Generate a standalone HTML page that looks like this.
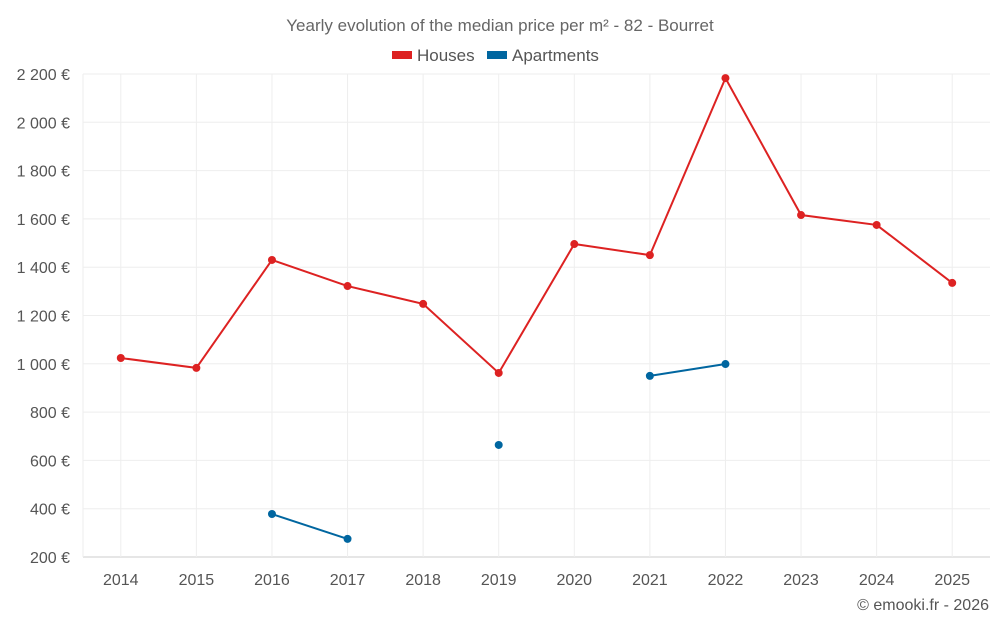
<!DOCTYPE html>
<html><head><meta charset="utf-8"><style>
body{margin:0;background:#fff;font-family:"Liberation Sans",sans-serif}
svg text{font-family:"Liberation Sans",sans-serif}
</style></head><body>
<svg id="chart" width="1000" height="625" xmlns="http://www.w3.org/2000/svg">
<text x="500" y="31" text-anchor="middle" font-size="17" fill="#666">Yearly evolution of the median price per m² - 82 - Bourret</text>
<g>
<g><rect x="392" y="51" width="20" height="8" fill="#dd2222"/><text x="417" y="61" font-size="17" fill="#555">Houses</text></g>
<g><rect x="487" y="51" width="20" height="8" fill="#0066a0"/><text x="512" y="61" font-size="17" fill="#555">Apartments</text></g>
</g>
<g id="grid"></g>
<g id="yaxis"></g>
<g id="xaxis"></g>
<g id="series"></g>
<text x="989" y="610" text-anchor="end" font-size="16" fill="#555">© emooki.fr - 2026</text>
</svg>
<script>
const years=["2014","2015","2016","2017","2018","2019","2020","2021","2022","2023","2024","2025"];
const houses=[1024,983,1430,1322,1248,962,1496,1450,2183,1616,1575,1335];
const apartments=[null,null,378,275,null,664,null,950,999,null,null,null];
const yTicks=[200,400,600,800,1000,1200,1400,1600,1800,2000,2200];
const yTickLabels=["200 €","400 €","600 €","800 €","1 000 €","1 200 €","1 400 €","1 600 €","1 800 €","2 000 €","2 200 €"];
const NS="http://www.w3.org/2000/svg";
const L=83,R=990,T=74,B=557;
const step=(R-L)/years.length;
const x=i=>L+step*(i+0.5);
const y=v=>B-(v-200)/2000*(B-T);
function mk(tag,attrs,parent){const e=document.createElementNS(NS,tag);for(const k in attrs)e.setAttribute(k,attrs[k]);parent.appendChild(e);return e;}
const grid=document.getElementById('grid'),ya=document.getElementById('yaxis'),xa=document.getElementById('xaxis'),se=document.getElementById('series');
yTicks.forEach((v,i)=>{
 const l=mk('line',{x1:L,x2:R,y1:y(v),y2:y(v),stroke:i==0?'#ccc':'#eeeeee'},grid);
 
 
 const t=mk('text',{x:70,y:y(v)+6,'text-anchor':'end','font-size':16,fill:'#555'},ya);
 t.textContent=yTickLabels[i];
 
 
});
const lb=mk('line',{x1:L,x2:L,y1:T,y2:B,stroke:'#eeeeee'},grid);


years.forEach((yr,i)=>{
 const l=mk('line',{x1:x(i),x2:x(i),y1:T,y2:B,stroke:'#eeeeee'},grid);
 
 
 const t=mk('text',{x:x(i),y:585,'text-anchor':'middle','font-size':16,fill:'#555'},xa);
 t.textContent=yr;
 
 
});
function draw(data,color,name){
 let seg=[];
 const flush=()=>{if(seg.length>1){const p=mk('polyline',{points:seg.join(' '),fill:'none',stroke:color,'stroke-width':2},se);
 
 }seg=[];};
 data.forEach((v,i)=>{if(v==null){flush();return;}seg.push(x(i)+','+y(v));});
 flush();
 data.forEach((v,i)=>{if(v==null)return;
  const c=mk('circle',{cx:x(i),cy:y(v),r:4,fill:color},se);
  
  
 });
}
draw(houses,'#dd2222','houses');
draw(apartments,'#0066a0','apartments');
</script>
</body></html>
